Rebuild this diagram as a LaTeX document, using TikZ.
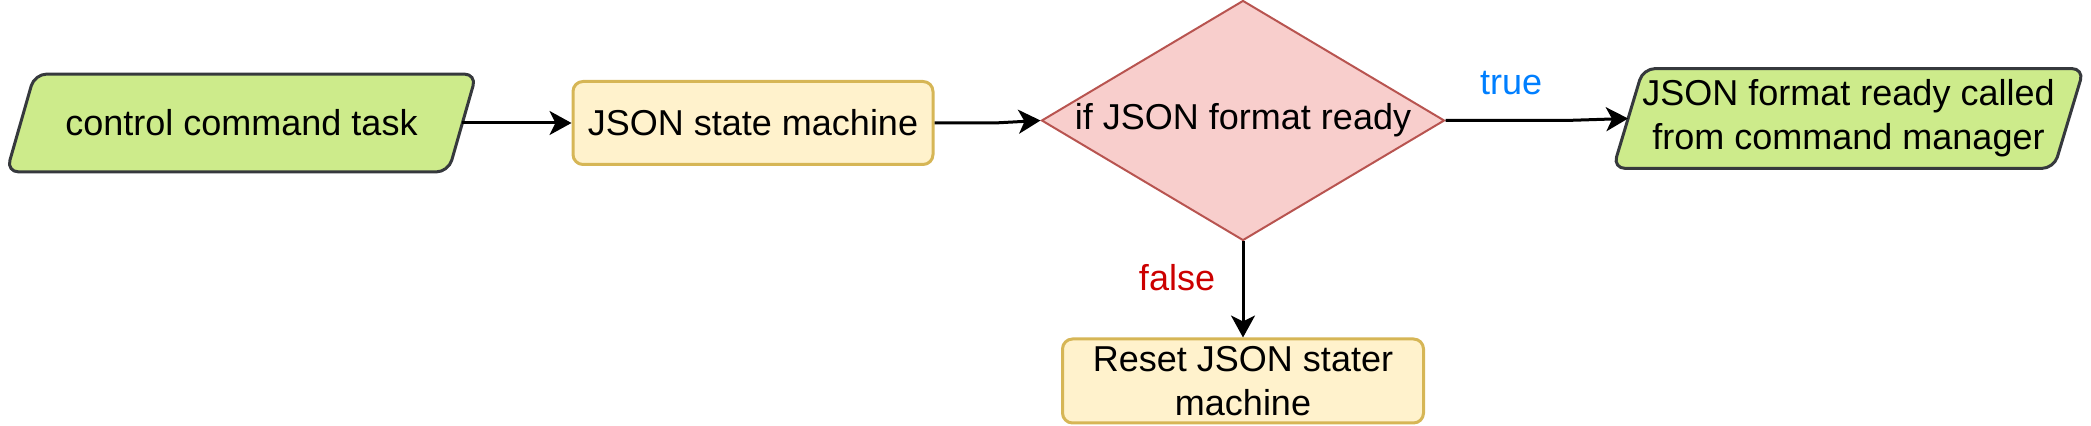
\documentclass[tikz,border=0pt]{standalone}
\usepackage{fontspec}
\setmainfont{Liberation Sans}
\usetikzlibrary{shapes.geometric,arrows.meta,backgrounds}
\definecolor{gfill}{HTML}{CDEB8B}
\definecolor{gline}{HTML}{36393D}
\definecolor{yfill}{HTML}{FFF2CC}
\definecolor{yline}{HTML}{D6B656}
\definecolor{rfill}{HTML}{F8CECC}
\definecolor{rline}{HTML}{B85450}
\definecolor{truec}{HTML}{007FFF}
\definecolor{falsec}{HTML}{CC0000}
\tikzset{
  txt/.style={font=\fontsize{18}{22}\selectfont, align=center},
  iobox/.style={txt, rectangle, inner sep=0pt},
  iodraw/.style={draw=gline, fill=gfill, line width=1.5pt, rounded corners=6pt},
  procbox/.style={txt, rectangle, draw=yline, fill=yfill, line width=1.5pt, rounded corners=5pt, inner sep=0pt},
  decbox/.style={txt, diamond, draw=rline, fill=rfill, line width=1pt, inner sep=0pt, aspect=1.68},
  conn/.style={line width=1.5pt, -{Stealth[length=11pt,width=12pt,inset=3pt]}},
}
\newcommand{\paragram}[2]{%
  \begin{scope}[on background layer]
  \draw[iodraw] ([xshift=-#2]#1.south west) -- ([xshift=#2]#1.north west)
     -- ([xshift=#2]#1.north east) -- ([xshift=-#2]#1.south east) -- cycle;
  \end{scope}}
\begin{document}
\begin{tikzpicture}[x=0.5pt,y=-0.5pt]
\useasboundingbox (0,0) rectangle (2091,426);
\node[iobox, minimum width=220.5pt, minimum height=48.5pt] (cct) at (241.5,123) {control command task};
\paragram{cct}{7pt}
\node[procbox, minimum width=180pt, minimum height=41.5pt] (jsm) at (753,123) {JSON state machine};
\node[decbox, minimum width=201.5pt, minimum height=120pt] (dec) at (1243,120.5) {if JSON format ready};
\node[iobox, minimum width=220pt, minimum height=49.5pt] (ready) at (1848.5,118.5) {JSON format ready called\\from command manager};
\paragram{ready}{7.5pt}
\node[procbox, minimum width=180.5pt, minimum height=42pt] (reset) at (1243,381) {Reset JSON stater\\machine};
\draw[conn] (cct.east) -- (jsm.west);
\draw[conn] (jsm.east) -- ++(60,0) -- (dec.west);
\draw[conn] (dec.east) -- ++(120,0) -- (ready.west);
\draw[conn] (dec.south) -- (reset.north);
\node[txt, text=truec] (tl) at (1511,83) {true};
\node[txt, text=falsec] (fl) at (1177,278) {false};
\end{tikzpicture}
\end{document}
